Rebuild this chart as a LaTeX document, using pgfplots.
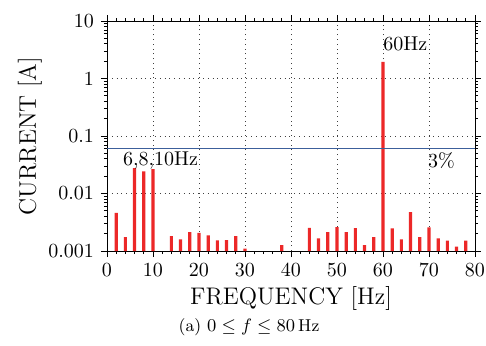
\documentclass[border=0pt]{standalone}
\usepackage{pgfplots}
\pgfplotsset{compat=1.18}
\definecolor{barred}{RGB}{236,40,40}
\definecolor{lineblue}{RGB}{60,95,155}
\begin{document}
\begin{tikzpicture}
\useasboundingbox (-53.5pt,-47pt) rectangle (189.5pt,125.5pt);
\begin{axis}[
  at={(0,0)}, anchor=south west,
  width=184pt, height=115pt, scale only axis,
  xmin=0, xmax=80, ymin=0.001, ymax=10,
  ymode=log, log origin=infty,
  xtick={0,10,...,80}, minor x tick num=4,
  ytick={0.001,0.01,0.1,1,10}, yticklabels={0.001,0.01,0.1,1,10},
  grid=major, grid style={dotted, black!75, line width=0.4pt},
  tick align=outside, major tick length=3pt, minor tick length=1.5pt,
  tick style={black, line width=0.4pt},
  xlabel={FREQUENCY [Hz]}, ylabel={CURRENT [A]},
  label style={font=\large},
  xlabel style={at={(axis description cs:0.5,0)}, anchor=center, yshift=-23.5pt},
  ylabel style={at={(axis description cs:0,0.5)}, anchor=center, yshift=38.5pt},
  clip=false,
]
\addplot[ybar, bar width=1.6pt, fill=barred, draw=none] coordinates {
(2,0.0046) (4,0.00175) (6,0.0276) (8,0.0243) (10,0.0266)
(14,0.00182) (16,0.00159) (18,0.00213) (20,0.00207) (22,0.00187)
(24,0.00153) (26,0.00155) (28,0.00182) (30,0.0011) (38,0.00127)
(44,0.00253) (46,0.00166) (48,0.00213) (50,0.0026) (52,0.00213)
(54,0.0025) (56,0.00127) (58,0.00175) (60,1.95) (62,0.00247)
(64,0.0016) (66,0.00473) (68,0.00175) (70,0.00257) (72,0.00166)
(74,0.00151) (76,0.00119) (78,0.00151)
};
\addplot[lineblue, line width=0.6pt] coordinates {(0,0.06) (80,0.06)};
\node[anchor=west, inner sep=0pt] at (axis cs:60,4) {60Hz};
\node[anchor=west, inner sep=0pt] at (axis cs:3.4,0.038) {6,8,10Hz};
\node[anchor=west, inner sep=0pt] at (axis cs:69.7,0.038) {3\%};
\node[anchor=base, inner sep=0pt] at ([xshift=-21pt, yshift=-40.3pt]rel axis cs:0.5,0) {\fontsize{8.6}{10}\selectfont (a) $0 \le f \le 80\,$Hz};
\end{axis}
\end{tikzpicture}
\end{document}
